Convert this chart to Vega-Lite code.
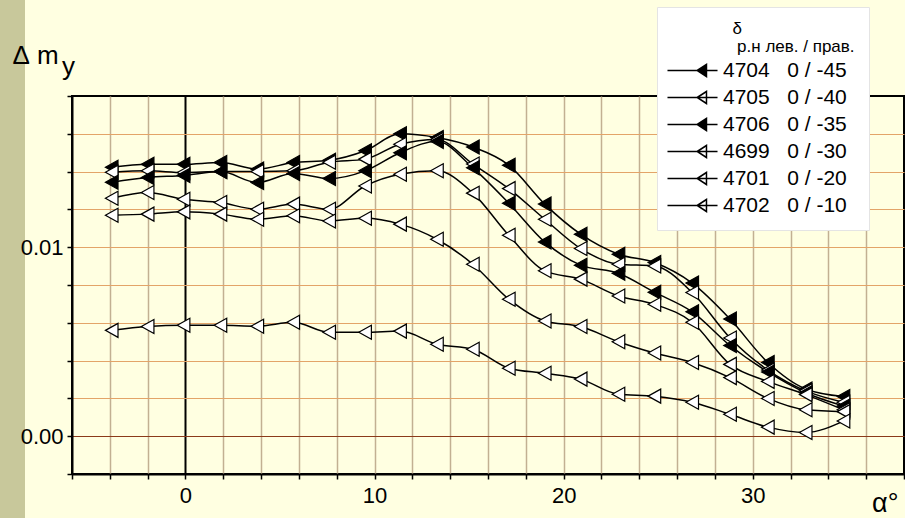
{
  "$schema": "https://vega.github.io/schema/vega-lite/v6.json",
  "width": 832,
  "height": 378,
  "autosize": {"type": "none"},
  "padding": {"left": 72, "top": 96, "right": 1, "bottom": 44},
  "background": "#ffffe1",
  "config": {
    "view": {"stroke": "black", "strokeWidth": 2, "fill": "#ffffe1"},
    "font": "Liberation Sans"
  },
  "title": {
    "text": "y",
    "orient": "top",
    "anchor": "start",
    "frame": "group",
    "align": "left",
    "baseline": "alphabetic",
    "offset": 0,
    "dx": -10,
    "dy": 101,
    "fontSize": 26,
    "fontWeight": "normal",
    "color": "black"
  },
  "datasets": {
    "pts": [
      {"s": "4704\u00a0\u00a0\u00a00\u00a0/\u00a0-45", "a": -3.9, "v": 0.01423},
      {"s": "4704\u00a0\u00a0\u00a00\u00a0/\u00a0-45", "a": -2.0, "v": 0.01439},
      {"s": "4704\u00a0\u00a0\u00a00\u00a0/\u00a0-45", "a": -0.1, "v": 0.01439},
      {"s": "4704\u00a0\u00a0\u00a00\u00a0/\u00a0-45", "a": 1.85, "v": 0.01448},
      {"s": "4704\u00a0\u00a0\u00a00\u00a0/\u00a0-45", "a": 3.8, "v": 0.01413},
      {"s": "4704\u00a0\u00a0\u00a00\u00a0/\u00a0-45", "a": 5.7, "v": 0.01448},
      {"s": "4704\u00a0\u00a0\u00a00\u00a0/\u00a0-45", "a": 7.6, "v": 0.0146},
      {"s": "4704\u00a0\u00a0\u00a00\u00a0/\u00a0-45", "a": 9.5, "v": 0.0151},
      {"s": "4704\u00a0\u00a0\u00a00\u00a0/\u00a0-45", "a": 11.35, "v": 0.0160},
      {"s": "4704\u00a0\u00a0\u00a00\u00a0/\u00a0-45", "a": 13.3, "v": 0.0158},
      {"s": "4704\u00a0\u00a0\u00a00\u00a0/\u00a0-45", "a": 15.2, "v": 0.0153},
      {"s": "4704\u00a0\u00a0\u00a00\u00a0/\u00a0-45", "a": 17.1, "v": 0.01434},
      {"s": "4704\u00a0\u00a0\u00a00\u00a0/\u00a0-45", "a": 19.0, "v": 0.01228},
      {"s": "4704\u00a0\u00a0\u00a00\u00a0/\u00a0-45", "a": 20.9, "v": 0.01069},
      {"s": "4704\u00a0\u00a0\u00a00\u00a0/\u00a0-45", "a": 22.9, "v": 0.00963},
      {"s": "4704\u00a0\u00a0\u00a00\u00a0/\u00a0-45", "a": 24.8, "v": 0.00919},
      {"s": "4704\u00a0\u00a0\u00a00\u00a0/\u00a0-45", "a": 26.8, "v": 0.0081},
      {"s": "4704\u00a0\u00a0\u00a00\u00a0/\u00a0-45", "a": 28.8, "v": 0.0062},
      {"s": "4704\u00a0\u00a0\u00a00\u00a0/\u00a0-45", "a": 30.8, "v": 0.0039},
      {"s": "4704\u00a0\u00a0\u00a00\u00a0/\u00a0-45", "a": 32.8, "v": 0.0025},
      {"s": "4704\u00a0\u00a0\u00a00\u00a0/\u00a0-45", "a": 34.8, "v": 0.0021},

      {"s": "4705\u00a0\u00a0\u00a00\u00a0/\u00a0-40", "a": -3.9, "v": 0.01397},
      {"s": "4705\u00a0\u00a0\u00a00\u00a0/\u00a0-40", "a": -2.0, "v": 0.01404},
      {"s": "4705\u00a0\u00a0\u00a00\u00a0/\u00a0-40", "a": -0.1, "v": 0.01395},
      {"s": "4705\u00a0\u00a0\u00a00\u00a0/\u00a0-40", "a": 1.85, "v": 0.0140},
      {"s": "4705\u00a0\u00a0\u00a00\u00a0/\u00a0-40", "a": 3.8, "v": 0.0140},
      {"s": "4705\u00a0\u00a0\u00a00\u00a0/\u00a0-40", "a": 5.7, "v": 0.01404},
      {"s": "4705\u00a0\u00a0\u00a00\u00a0/\u00a0-40", "a": 7.6, "v": 0.0145},
      {"s": "4705\u00a0\u00a0\u00a00\u00a0/\u00a0-40", "a": 9.5, "v": 0.01466},
      {"s": "4705\u00a0\u00a0\u00a00\u00a0/\u00a0-40", "a": 11.35, "v": 0.01545},
      {"s": "4705\u00a0\u00a0\u00a00\u00a0/\u00a0-40", "a": 13.3, "v": 0.0157},
      {"s": "4705\u00a0\u00a0\u00a00\u00a0/\u00a0-40", "a": 15.2, "v": 0.0144},
      {"s": "4705\u00a0\u00a0\u00a00\u00a0/\u00a0-40", "a": 17.1, "v": 0.0131},
      {"s": "4705\u00a0\u00a0\u00a00\u00a0/\u00a0-40", "a": 19.0, "v": 0.01148},
      {"s": "4705\u00a0\u00a0\u00a00\u00a0/\u00a0-40", "a": 20.9, "v": 0.00993},
      {"s": "4705\u00a0\u00a0\u00a00\u00a0/\u00a0-40", "a": 22.9, "v": 0.0091},
      {"s": "4705\u00a0\u00a0\u00a00\u00a0/\u00a0-40", "a": 24.8, "v": 0.00901},
      {"s": "4705\u00a0\u00a0\u00a00\u00a0/\u00a0-40", "a": 26.8, "v": 0.0076},
      {"s": "4705\u00a0\u00a0\u00a00\u00a0/\u00a0-40", "a": 28.8, "v": 0.0052},
      {"s": "4705\u00a0\u00a0\u00a00\u00a0/\u00a0-40", "a": 30.8, "v": 0.0035},
      {"s": "4705\u00a0\u00a0\u00a00\u00a0/\u00a0-40", "a": 32.8, "v": 0.0024},
      {"s": "4705\u00a0\u00a0\u00a00\u00a0/\u00a0-40", "a": 34.8, "v": 0.0018},

      {"s": "4706\u00a0\u00a0\u00a00\u00a0/\u00a0-35", "a": -3.9, "v": 0.01344},
      {"s": "4706\u00a0\u00a0\u00a00\u00a0/\u00a0-35", "a": -2.0, "v": 0.01369},
      {"s": "4706\u00a0\u00a0\u00a00\u00a0/\u00a0-35", "a": -0.1, "v": 0.0138},
      {"s": "4706\u00a0\u00a0\u00a00\u00a0/\u00a0-35", "a": 1.85, "v": 0.0140},
      {"s": "4706\u00a0\u00a0\u00a00\u00a0/\u00a0-35", "a": 3.8, "v": 0.01342},
      {"s": "4706\u00a0\u00a0\u00a00\u00a0/\u00a0-35", "a": 5.7, "v": 0.0139},
      {"s": "4706\u00a0\u00a0\u00a00\u00a0/\u00a0-35", "a": 7.6, "v": 0.01363},
      {"s": "4706\u00a0\u00a0\u00a00\u00a0/\u00a0-35", "a": 9.5, "v": 0.01404},
      {"s": "4706\u00a0\u00a0\u00a00\u00a0/\u00a0-35", "a": 11.35, "v": 0.0150},
      {"s": "4706\u00a0\u00a0\u00a00\u00a0/\u00a0-35", "a": 13.3, "v": 0.0156},
      {"s": "4706\u00a0\u00a0\u00a00\u00a0/\u00a0-35", "a": 15.2, "v": 0.0142},
      {"s": "4706\u00a0\u00a0\u00a00\u00a0/\u00a0-35", "a": 17.1, "v": 0.01233},
      {"s": "4706\u00a0\u00a0\u00a00\u00a0/\u00a0-35", "a": 19.0, "v": 0.01028},
      {"s": "4706\u00a0\u00a0\u00a00\u00a0/\u00a0-35", "a": 20.9, "v": 0.00905},
      {"s": "4706\u00a0\u00a0\u00a00\u00a0/\u00a0-35", "a": 22.9, "v": 0.00862},
      {"s": "4706\u00a0\u00a0\u00a00\u00a0/\u00a0-35", "a": 24.8, "v": 0.00762},
      {"s": "4706\u00a0\u00a0\u00a00\u00a0/\u00a0-35", "a": 26.8, "v": 0.00658},
      {"s": "4706\u00a0\u00a0\u00a00\u00a0/\u00a0-35", "a": 28.8, "v": 0.0048},
      {"s": "4706\u00a0\u00a0\u00a00\u00a0/\u00a0-35", "a": 30.8, "v": 0.0034},
      {"s": "4706\u00a0\u00a0\u00a00\u00a0/\u00a0-35", "a": 32.8, "v": 0.0023},
      {"s": "4706\u00a0\u00a0\u00a00\u00a0/\u00a0-35", "a": 34.8, "v": 0.0016},

      {"s": "4699\u00a0\u00a0\u00a00\u00a0/\u00a0-30", "a": -3.9, "v": 0.01259},
      {"s": "4699\u00a0\u00a0\u00a00\u00a0/\u00a0-30", "a": -2.0, "v": 0.01289},
      {"s": "4699\u00a0\u00a0\u00a00\u00a0/\u00a0-30", "a": -0.1, "v": 0.01254},
      {"s": "4699\u00a0\u00a0\u00a00\u00a0/\u00a0-30", "a": 1.85, "v": 0.01236},
      {"s": "4699\u00a0\u00a0\u00a00\u00a0/\u00a0-30", "a": 3.8, "v": 0.01201},
      {"s": "4699\u00a0\u00a0\u00a00\u00a0/\u00a0-30", "a": 5.7, "v": 0.01228},
      {"s": "4699\u00a0\u00a0\u00a00\u00a0/\u00a0-30", "a": 7.6, "v": 0.01201},
      {"s": "4699\u00a0\u00a0\u00a00\u00a0/\u00a0-30", "a": 9.5, "v": 0.01324},
      {"s": "4699\u00a0\u00a0\u00a00\u00a0/\u00a0-30", "a": 11.35, "v": 0.01386},
      {"s": "4699\u00a0\u00a0\u00a00\u00a0/\u00a0-30", "a": 13.3, "v": 0.01404},
      {"s": "4699\u00a0\u00a0\u00a00\u00a0/\u00a0-30", "a": 15.2, "v": 0.01286},
      {"s": "4699\u00a0\u00a0\u00a00\u00a0/\u00a0-30", "a": 17.1, "v": 0.01063},
      {"s": "4699\u00a0\u00a0\u00a00\u00a0/\u00a0-30", "a": 19.0, "v": 0.00875},
      {"s": "4699\u00a0\u00a0\u00a00\u00a0/\u00a0-30", "a": 20.9, "v": 0.00831},
      {"s": "4699\u00a0\u00a0\u00a00\u00a0/\u00a0-30", "a": 22.9, "v": 0.00742},
      {"s": "4699\u00a0\u00a0\u00a00\u00a0/\u00a0-30", "a": 24.8, "v": 0.00698},
      {"s": "4699\u00a0\u00a0\u00a00\u00a0/\u00a0-30", "a": 26.8, "v": 0.00603},
      {"s": "4699\u00a0\u00a0\u00a00\u00a0/\u00a0-30", "a": 28.8, "v": 0.0038},
      {"s": "4699\u00a0\u00a0\u00a00\u00a0/\u00a0-30", "a": 30.8, "v": 0.0029},
      {"s": "4699\u00a0\u00a0\u00a00\u00a0/\u00a0-30", "a": 32.8, "v": 0.0022},
      {"s": "4699\u00a0\u00a0\u00a00\u00a0/\u00a0-30", "a": 34.8, "v": 0.0014},

      {"s": "4701\u00a0\u00a0\u00a00\u00a0/\u00a0-20", "a": -3.9, "v": 0.01169},
      {"s": "4701\u00a0\u00a0\u00a00\u00a0/\u00a0-20", "a": -2.0, "v": 0.01175},
      {"s": "4701\u00a0\u00a0\u00a00\u00a0/\u00a0-20", "a": -0.1, "v": 0.01187},
      {"s": "4701\u00a0\u00a0\u00a00\u00a0/\u00a0-20", "a": 1.85, "v": 0.01175},
      {"s": "4701\u00a0\u00a0\u00a00\u00a0/\u00a0-20", "a": 3.8, "v": 0.01148},
      {"s": "4701\u00a0\u00a0\u00a00\u00a0/\u00a0-20", "a": 5.7, "v": 0.01166},
      {"s": "4701\u00a0\u00a0\u00a00\u00a0/\u00a0-20", "a": 7.6, "v": 0.01139},
      {"s": "4701\u00a0\u00a0\u00a00\u00a0/\u00a0-20", "a": 9.5, "v": 0.01153},
      {"s": "4701\u00a0\u00a0\u00a00\u00a0/\u00a0-20", "a": 11.35, "v": 0.01122},
      {"s": "4701\u00a0\u00a0\u00a00\u00a0/\u00a0-20", "a": 13.3, "v": 0.01042},
      {"s": "4701\u00a0\u00a0\u00a00\u00a0/\u00a0-20", "a": 15.2, "v": 0.0091},
      {"s": "4701\u00a0\u00a0\u00a00\u00a0/\u00a0-20", "a": 17.1, "v": 0.00725},
      {"s": "4701\u00a0\u00a0\u00a00\u00a0/\u00a0-20", "a": 19.0, "v": 0.0061},
      {"s": "4701\u00a0\u00a0\u00a00\u00a0/\u00a0-20", "a": 20.9, "v": 0.0058},
      {"s": "4701\u00a0\u00a0\u00a00\u00a0/\u00a0-20", "a": 22.9, "v": 0.0050},
      {"s": "4701\u00a0\u00a0\u00a00\u00a0/\u00a0-20", "a": 24.8, "v": 0.0044},
      {"s": "4701\u00a0\u00a0\u00a00\u00a0/\u00a0-20", "a": 26.8, "v": 0.0039},
      {"s": "4701\u00a0\u00a0\u00a00\u00a0/\u00a0-20", "a": 28.8, "v": 0.0031},
      {"s": "4701\u00a0\u00a0\u00a00\u00a0/\u00a0-20", "a": 30.8, "v": 0.0020},
      {"s": "4701\u00a0\u00a0\u00a00\u00a0/\u00a0-20", "a": 32.8, "v": 0.0014},
      {"s": "4701\u00a0\u00a0\u00a00\u00a0/\u00a0-20", "a": 34.8, "v": 0.0013},

      {"s": "4702\u00a0\u00a0\u00a00\u00a0/\u00a0-10", "a": -3.9, "v": 0.0056},
      {"s": "4702\u00a0\u00a0\u00a00\u00a0/\u00a0-10", "a": -2.0, "v": 0.0058},
      {"s": "4702\u00a0\u00a0\u00a00\u00a0/\u00a0-10", "a": -0.1, "v": 0.00587},
      {"s": "4702\u00a0\u00a0\u00a00\u00a0/\u00a0-10", "a": 1.85, "v": 0.00587},
      {"s": "4702\u00a0\u00a0\u00a00\u00a0/\u00a0-10", "a": 3.8, "v": 0.00582},
      {"s": "4702\u00a0\u00a0\u00a00\u00a0/\u00a0-10", "a": 5.7, "v": 0.00603},
      {"s": "4702\u00a0\u00a0\u00a00\u00a0/\u00a0-10", "a": 7.6, "v": 0.0055},
      {"s": "4702\u00a0\u00a0\u00a00\u00a0/\u00a0-10", "a": 9.5, "v": 0.0055},
      {"s": "4702\u00a0\u00a0\u00a00\u00a0/\u00a0-10", "a": 11.35, "v": 0.00556},
      {"s": "4702\u00a0\u00a0\u00a00\u00a0/\u00a0-10", "a": 13.3, "v": 0.00487},
      {"s": "4702\u00a0\u00a0\u00a00\u00a0/\u00a0-10", "a": 15.2, "v": 0.0046},
      {"s": "4702\u00a0\u00a0\u00a00\u00a0/\u00a0-10", "a": 17.1, "v": 0.0036},
      {"s": "4702\u00a0\u00a0\u00a00\u00a0/\u00a0-10", "a": 19.0, "v": 0.00333},
      {"s": "4702\u00a0\u00a0\u00a00\u00a0/\u00a0-10", "a": 20.9, "v": 0.00302},
      {"s": "4702\u00a0\u00a0\u00a00\u00a0/\u00a0-10", "a": 22.9, "v": 0.00222},
      {"s": "4702\u00a0\u00a0\u00a00\u00a0/\u00a0-10", "a": 24.8, "v": 0.00212},
      {"s": "4702\u00a0\u00a0\u00a00\u00a0/\u00a0-10", "a": 26.8, "v": 0.0018},
      {"s": "4702\u00a0\u00a0\u00a00\u00a0/\u00a0-10", "a": 28.8, "v": 0.00116},
      {"s": "4702\u00a0\u00a0\u00a00\u00a0/\u00a0-10", "a": 30.8, "v": 0.00048},
      {"s": "4702\u00a0\u00a0\u00a00\u00a0/\u00a0-10", "a": 32.8, "v": 0.0002},
      {"s": "4702\u00a0\u00a0\u00a00\u00a0/\u00a0-10", "a": 34.8, "v": 0.0008}
    ]
  },
  "data": {"name": "pts"},
  "encoding": {
    "x": {
      "field": "a",
      "type": "quantitative",
      "scale": {"domain": [-6, 38], "nice": false, "zero": false},
      "axis": {
        "values": [-6, -4, -2, 0, 2, 4, 6, 8, 10, 12, 14, 16, 18, 20, 22, 24, 26, 28, 30, 32, 34, 36, 38],
        "labelExpr": "datum.value % 10 === 0 ? datum.label : ''",
        "labelOverlap": false,
        "labelFlush": false,
        "labelFontSize": 22,
        "labelColor": "black",
        "labelPadding": 6,
        "tickColor": "black",
        "tickSize": 5,
        "tickWidth": 1.5,
        "domainColor": "black",
        "domainWidth": 2,
        "grid": true,
        "gridColor": {"condition": {"test": "datum.value === 0", "value": "black"}, "value": "#c2b092"},
        "gridWidth": {"condition": {"test": "datum.value === 0", "value": 2}, "value": 1.5},
        "gridOpacity": {"condition": {"test": "datum.value === -6 || datum.value === 38", "value": 0}, "value": 1},
        "title": "α°",
        "titleFontSize": 27,
        "titleFontWeight": "normal",
        "titleColor": "black",
        "titleAlign": "right",
        "titleBaseline": "alphabetic",
        "titleAnchor": "end",
        "titleX": 826,
        "titleY": 37
      }
    },
    "y": {
      "field": "v",
      "type": "quantitative",
      "scale": {"domain": [-0.002, 0.018], "nice": false, "zero": false}
    }
  },
  "resolve": {"axis": {"y": "independent"}},
  "layer": [
    {
      "mark": {"type": "point", "opacity": 0, "size": 1},
      "encoding": {
        "y": {
          "field": "v",
          "type": "quantitative",
          "axis": {
            "orient": "right",
            "zindex": 0,
            "values": [-0.002, 0, 0.002, 0.004, 0.006, 0.008, 0.01, 0.012, 0.014, 0.016, 0.018],
            "domain": false,
            "ticks": false,
            "labels": false,
            "title": null,
            "grid": true,
            "gridColor": {"condition": {"test": "abs(datum.value) < 1e-9", "value": "#8b3a1a"}, "value": "#e3a468"},
            "gridWidth": 1.2,
            "gridOpacity": {"condition": {"test": "datum.value < -0.0015 || datum.value > 0.0175", "value": 0}, "value": 1}
          }
        },
        "color": {
          "field": "v",
          "type": "quantitative",
          "scale": {"range": ["#c8c89b", "#c8c89b"]},
          "legend": {
            "orient": "none",
            "legendX": -72,
            "legendY": -96,
            "direction": "vertical",
            "gradientLength": 518,
            "gradientThickness": 25,
            "gradientStrokeWidth": 0,
            "title": null,
            "labelExpr": "''",
            "labelOpacity": 0,
            "padding": 0,
            "zindex": 0
          }
        }
      }
    },
    {
      "encoding": {
        "y": {
          "field": "v",
          "type": "quantitative",
          "axis": {
            "orient": "left",
            "zindex": 1,
            "values": [-0.002, 0, 0.002, 0.004, 0.006, 0.008, 0.01, 0.012, 0.014, 0.016, 0.018],
            "labelExpr": "(abs(datum.value) < 1e-9 || abs(datum.value - 0.01) < 1e-9) ? format(datum.value, '.2f') : ''",
            "labelOverlap": false,
            "labelFlush": false,
            "labelFontSize": 22,
            "labelColor": "black",
            "labelPadding": 4,
            "tickColor": "black",
            "tickSize": 5,
            "tickWidth": 1.5,
            "domainColor": "black",
            "domainWidth": 2,
            "grid": false,
            "title": "Δ\u00a0m",
            "titleFontSize": 26,
            "titleFontWeight": "normal",
            "titleColor": "black",
            "titleAngle": 0,
            "titleAlign": "left",
            "titleBaseline": "alphabetic",
            "titleX": -60,
            "titleY": -33
          }
        }
      },
      "layer": [
        {
          "mark": {"type": "line", "interpolate": "monotone", "color": "black", "strokeWidth": 1.5},
          "encoding": {"detail": {"field": "s", "type": "nominal"}}
        },
        {
          "mark": {"type": "point", "filled": true, "shape": "M-0.9,0L0.9,-1L0.9,1Z", "size": 196, "stroke": "black", "strokeWidth": 1.2, "opacity": 1},
          "encoding": {
            "fill": {
              "field": "s",
              "type": "nominal",
              "scale": {
                "domain": [
                  "4704\u00a0\u00a0\u00a00\u00a0/\u00a0-45",
                  "4705\u00a0\u00a0\u00a00\u00a0/\u00a0-40",
                  "4706\u00a0\u00a0\u00a00\u00a0/\u00a0-35",
                  "4699\u00a0\u00a0\u00a00\u00a0/\u00a0-30",
                  "4701\u00a0\u00a0\u00a00\u00a0/\u00a0-20",
                  "4702\u00a0\u00a0\u00a00\u00a0/\u00a0-10"
                ],
                "range": ["black", "white", "black", "white", "white", "white"]
              },
              "legend": {
                "orient": "none",
                "legendX": 585,
                "legendY": -89,
                "title": ["\u200b\u00a0\u00a0\u00a0\u00a0\u00a0\u00a0\u00a0\u00a0\u00a0\u00a0\u00a0\u00a0\u00a0δ", "\u200b\u00a0\u00a0\u00a0\u00a0\u00a0\u00a0\u00a0\u00a0\u00a0\u00a0\u00a0\u00a0\u00a0\u00a0р.н лев. / прав."],
                "titleAnchor": "start",
                "titleAlign": "left",
                "titleFontSize": 17,
                "titleFontWeight": "normal",
                "titleColor": "black",
                "titleLineHeight": 18,
                "titlePadding": 4,
                "titleLimit": 400,
                "symbolType": "M-4.17,0H4.17M0.78,0L2.33,-1L2.33,1Z",
                "symbolSize": 144,
                "symbolStrokeColor": "black",
                "symbolStrokeWidth": 1.5,
                "symbolOpacity": 1,
                "symbolOffset": 11,
                "labelFontSize": 21,
                "labelOffset": 20,
                "labelColor": "black",
                "labelLimit": 400,
                "rowPadding": 5,
                "padding": 14,
                "fillColor": "white",
                "strokeColor": "#e4e4e4",
                "zindex": 2
              }
            }
          }
        }
      ]
    }
  ]
}
